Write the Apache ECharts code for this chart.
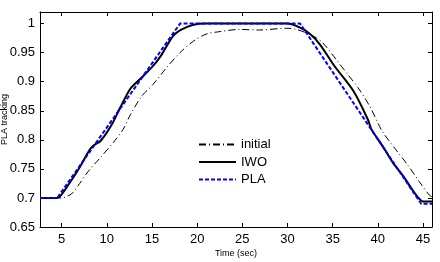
<!DOCTYPE html>
<html>
<head>
<meta charset="utf-8">
<script src="https://cdn.jsdelivr.net/npm/echarts@6/dist/echarts.min.js"></script>
<style>
html, body { margin: 0; padding: 0; background: #fff; }
#chart { width: 440px; height: 262px; }
</style>
</head>
<body>
<div id="chart"></div>
<script>
// ticks
var xTicks = [5, 10, 15, 20, 25, 30, 35, 40, 45];
var yTicks = [0.65, 0.7, 0.75, 0.8, 0.85, 0.9, 0.95, 1];

// initial
var initialTime = [2.6, 5.0, 5.6, 6.1, 7.0, 7.9, 9.2, 10.7, 11.8, 12.6, 13.85, 15.1, 16.6, 18.1, 19.6, 21, 22.4, 24.7, 26.9, 29.9, 31, 32.8, 33.9, 35.4, 36.7, 37.8, 39.1, 40.2, 40.6, 42, 43.3, 44.6, 45.7, 46];
var initialValue = [0.7, 0.7, 0.703, 0.707, 0.725, 0.745, 0.768, 0.795, 0.818, 0.843, 0.875, 0.895, 0.924, 0.95, 0.97, 0.982, 0.986, 0.99, 0.989, 0.992, 0.99, 0.979, 0.967, 0.938, 0.912, 0.89, 0.858, 0.823, 0.812, 0.783, 0.757, 0.728, 0.705, 0.702];

// IWO
var iwoTime = [2.6, 4.5, 5, 6.1, 7, 8.1, 8.6, 9.3, 10.5, 11.5, 12.6, 13.5, 15, 16, 17.35, 18.3, 19.6, 21, 30, 31.4, 32.5, 33.6, 35.2, 37.3, 38.9, 39.3, 40.5, 41.7, 42.8, 43.7, 44.5, 45, 46];
var iwoValue = [0.7, 0.7, 0.706, 0.731, 0.753, 0.783, 0.791, 0.798, 0.825, 0.856, 0.888, 0.902, 0.925, 0.945, 0.979, 0.99, 0.998, 1.0, 1.0, 0.993, 0.982, 0.964, 0.927, 0.884, 0.835, 0.818, 0.79, 0.76, 0.738, 0.717, 0.7, 0.694, 0.694];

// PLA
var plaTime = [2.6, 4.5, 18.1, 31.4, 44.8, 46];
var plaValue = [0.7, 0.7, 1.0, 1.0, 0.69, 0.69];

function pairs(t, v) {
	var out = [];
	for (var i = 0; i < t.length; i++) out.push([t[i], v[i]]);
	return out;
}

var font = 'Liberation Sans';
var myChart = echarts.init(document.getElementById('chart'));
var option = {
	animation: false,
	backgroundColor: '#fff',
	textStyle: { fontFamily: font },
	grid: { left: 40, right: 8, top: 12, bottom: 35, outerBoundsMode: 'none', containLabel: false },
	legend: {
		orient: 'vertical',
		left: 193,
		top: 133,
		itemWidth: 37,
		itemHeight: 14,
		itemGap: 4.5,
		itemStyle: { opacity: 0 },
		textStyle: { fontFamily: font, fontSize: 13, color: '#000', padding: [0, 0, 0, 0] },
		data: ['initial', 'IWO', 'PLA']
	},
	xAxis: [{
		type: 'value',
		min: 2.6,
		max: 46,
		name: 'Time (sec)',
		nameLocation: 'middle',
		nameGap: 22,
		nameMoveOverlap: false,
		nameTextStyle: { fontFamily: font, fontSize: 9, color: '#000' },
		axisLine: { lineStyle: { color: '#000', width: 1 } },
		axisTick: { inside: true, length: 4, customValues: xTicks, lineStyle: { color: '#000' } },
		axisLabel: { customValues: xTicks, fontFamily: font, fontSize: 13, color: '#000', margin: 6 },
		splitLine: { show: false }
	}, {
		type: 'value',
		position: 'top',
		min: 2.6,
		max: 46,
		axisLine: { lineStyle: { color: '#000', width: 1 } },
		axisTick: { inside: true, length: 4, customValues: xTicks, lineStyle: { color: '#000' } },
		axisLabel: { show: false },
		splitLine: { show: false }
	}],
	yAxis: [{
		type: 'value',
		min: 0.65,
		max: 1.02,
		name: 'PLA tracking',
		nameLocation: 'middle',
		nameGap: 31,
		nameMoveOverlap: false,
		nameTextStyle: { fontFamily: font, fontSize: 9, color: '#000' },
		axisLine: { show: true, lineStyle: { color: '#000', width: 1 } },
		axisTick: { show: true, inside: true, length: 4, customValues: yTicks, lineStyle: { color: '#000' } },
		axisLabel: { customValues: yTicks, fontFamily: font, fontSize: 13, color: '#000', margin: 5 },
		splitLine: { show: false }
	}, {
		type: 'value',
		position: 'right',
		min: 0.65,
		max: 1.02,
		axisLine: { show: true, lineStyle: { color: '#000', width: 1 } },
		axisTick: { show: true, inside: true, length: 4, customValues: yTicks, lineStyle: { color: '#000' } },
		axisLabel: { show: false },
		splitLine: { show: false }
	}],
	series: [{
		name: 'initial',
		type: 'line',
		symbol: 'none',
		smooth: 0.3,
		data: pairs(initialTime, initialValue),
		lineStyle: { color: '#000', width: 1, type: [7, 3, 1, 3] },
		itemStyle: { color: '#000' }
	}, {
		name: 'IWO',
		type: 'line',
		symbol: 'none',
		smooth: 0.3,
		data: pairs(iwoTime, iwoValue),
		lineStyle: { color: '#000', width: 2 },
		itemStyle: { color: '#000' }
	}, {
		name: 'PLA',
		type: 'line',
		symbol: 'none',
		data: pairs(plaTime, plaValue),
		lineStyle: { color: '#0000ff', width: 2, type: [4, 2] },
		itemStyle: { color: '#0000ff' }
	}]
};
myChart.setOption(option);
</script>
</body>
</html>
